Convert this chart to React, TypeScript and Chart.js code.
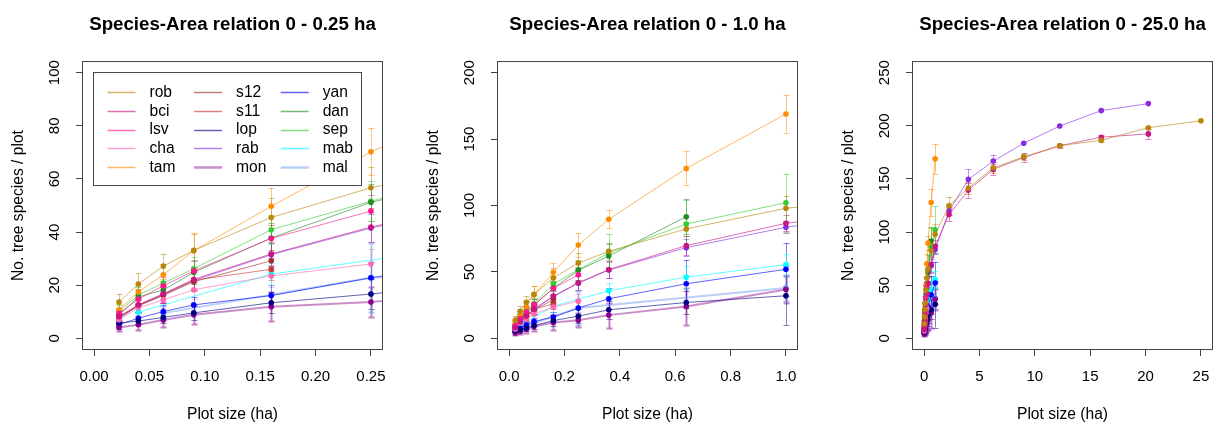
import React, { useEffect, useRef } from "react";
import { Chart, registerables } from "chart.js";

Chart.register(...registerables);

// ---- data ----
const plotSizes = [0.0225, 0.04, 0.0625, 0.09, 0.16, 0.25, 0.36, 0.64, 1.0, 2.25, 4, 6.25, 9, 12.25, 16, 20.25, 25];

const seriesNames = ["rob", "bci", "lsv", "cha", "tam", "s12", "s11", "lop", "rab", "mon", "yan", "dan", "sep", "mab", "mal"];
const seriesColors = ["#B8860B", "#C71585", "#FF1493", "#FF69B4", "#FF8C00", "#A52A2A", "#CD3333", "#000080", "#8A2BE2", "#8B008B", "#0000FF", "#228B22", "#32CD32", "#00FFFF", "#6495ED"];
const seriesLineWidths = [1, 1, 1, 1, 1, 1, 1, 1, 1, 2, 1, 1, 1, 1, 2];

const robMean = [13.7, 20.4, 27.2, 33.1, 45.5, 56.7, 65.5, 82.4, 97.9, 124.8, 141.5, 160.5, 170.8, 181.3, 186.3, 198.2, 204.7];
const robSd = [3.1, 4.1, 4.7, 6.3, 7.2, 7.7, 6.5, 5.0, 9.5, 8.5, 6, 5, 3, 1.5, 1.5, 1, 0];
const bciMean = [8.2, 12.6, 16.8, 22.2, 31.8, 41.9, 51.8, 69.8, 86.6, 116.5, 139.5, 159, 170.2, 181.2, 189.3, 192.4, null];
const bciSd = [2, 2.6, 3.2, 3.6, 4.5, 5.5, 6.5, 7, 6, 6, 7, 5, 4, 2, 2, 5, null];
const lsvMean = [9.4, 14.8, 19.8, 25.4, 37.6, 47.9, null, null, null, null, null, null, null, null, null, null, null];
const lsvSd = [2.2, 2.8, 3.3, 4, 5, 6, null, null, null, null, null, null, null, null, null, null, null];
const chaMean = [7, 11.5, 14.5, 18.3, 23.5, 28.0, null, null, null, null, null, null, null, null, null, null, null];
const chaSd = [2, 2.6, 3, 3.5, 4, 5.5, null, null, null, null, null, null, null, null, null, null, null];
const tamMean = [10.8, 17.5, 23.9, 33.0, 49.7, 70.2, 89.6, 127.9, 168.9, null, null, null, null, null, null, null, null];
const tamSd = [2.2, 3, 4.2, 6.5, 6.9, 8.8, 6.8, 12.8, 14, null, null, null, null, null, null, null, null];
const s12Mean = [7.7, 12.3, 16.2, 21.3, 29.2, null, null, null, null, null, null, null, null, null, null, null, null];
const s12Sd = [2, 2.5, 3, 3.5, 4, null, null, null, null, null, null, null, null, null, null, null, null];
const s11Mean = [8, 12.6, 16.6, 21.9, 26.0, null, null, null, null, null, null, null, null, null, null, null, null];
const s11Sd = [2.2, 2.7, 3.2, 3.8, 4.2, null, null, null, null, null, null, null, null, null, null, null, null];
const lopMean = [5.8, 6.5, 7.9, 9.6, 13.4, 16.7, 21.5, 27.0, 32.1, null, null, null, null, null, null, null, null];
const lopSd = [1.2, 1.5, 2, 2.5, 4, 5.5, 7, 9, 22, null, null, null, null, null, null, null, null];
const rabMean = [7.6, 12.2, 16.3, 21.8, 31.5, 41.5, 51.4, 68.3, 83.6, 119.8, 149.6, 166.8, 183.6, 199.8, 214.3, 220.9, null];
const rabSd = [1.8, 2.4, 3, 3.4, 4.3, 5.3, 6, 6.5, 4.5, 4, 9.5, 6, 0, 0, 0, 0, null];
const monMean = [4.1, 5.1, 6.9, 8.9, 11.9, 13.7, 17.5, 24.0, 36.8, null, null, null, null, null, null, null, null];
const monSd = [1.5, 2, 2.5, 3.5, 5.5, 5.5, 9.5, 14, 10, null, null, null, null, null, null, null, null];
const yanMean = [5.2, 7.6, 10.1, 12.6, 16.1, 22.8, 29.8, 41.1, 52.0, null, null, null, null, null, null, null, null];
const yanSd = [1.5, 2, 2.5, 3, 4, 6, 8, 18, 20, null, null, null, null, null, null, null, null];
const danMean = [8.7, 15.6, 18.2, 24.8, 37.8, 51.2, 62.0, 91.6, null, null, null, null, null, null, null, null, null];
const danSd = [2, 3, 3.5, 4.5, 5.5, 7, 9, 13, null, null, null, null, null, null, null, null, null];
const sepMean = [10.2, 16.3, 20.8, 26.2, 40.9, 51.6, 64.4, 86.1, 102.1, null, null, null, null, null, null, null, null];
const sepSd = [2.3, 3, 3.5, 4.5, 5.5, 7.5, 14, 18, 22, null, null, null, null, null, null, null, null];
const mabMean = [null, 9.9, null, null, 24.2, null, 35.8, 46.1, 55.5, null, null, null, null, null, null, null, null];
const mabSd = [null, 2.5, null, null, 4, null, 6, 8, 8, null, null, null, null, null, null, null, null];
const malMean = [null, null, 9.5, null, null, 22.8, null, null, 38.0, null, null, null, null, null, null, null, null];
const malSd = [null, null, 2.5, null, null, 13, null, null, 10, null, null, null, null, null, null, null, null];

const seriesMeans = [robMean, bciMean, lsvMean, chaMean, tamMean, s12Mean, s11Mean, lopMean, rabMean, monMean, yanMean, danMean, sepMean, mabMean, malMean];
const seriesSds = [robSd, bciSd, lsvSd, chaSd, tamSd, s12Sd, s11Sd, lopSd, rabSd, monSd, yanSd, danSd, sepSd, mabSd, malSd];

// panels
const panelTitles = ["Species-Area relation 0 - 0.25 ha", "Species-Area relation 0 - 1.0 ha", "Species-Area relation 0 - 25.0 ha"];
const xTicks1 = [0, 0.05, 0.1, 0.15, 0.2, 0.25];
const xTickLabels1 = ["0.00", "0.05", "0.10", "0.15", "0.20", "0.25"];
const yTicks1 = [0, 20, 40, 60, 80, 100];
const xTicks2 = [0, 0.2, 0.4, 0.6, 0.8, 1.0];
const xTickLabels2 = ["0.0", "0.2", "0.4", "0.6", "0.8", "1.0"];
const yTicks2 = [0, 50, 100, 150, 200];
const xTicks3 = [0, 5, 10, 15, 20, 25];
const xTickLabels3 = ["0", "5", "10", "15", "20", "25"];
const yTicks3 = [0, 50, 100, 150, 200, 250];
const xLimits = [[-0.01, 0.26], [-0.04, 1.04], [-1, 26]];
const yLimits = [[-4, 104], [-8, 208], [-10, 260]];
const xTitle = "Plot size (ha)";
const yTitle = "No. tree species / plot";

// ---- styling ----
const FONT = "'Liberation Sans', Arial, Helvetica, sans-serif";
const AXIS_COLOR = "#444";

function rgba(hex: string, a: number) {
  const n = parseInt(hex.slice(1), 16);
  return `rgba(${(n >> 16) & 255},${(n >> 8) & 255},${n & 255},${a})`;
}

function buildDatasets() {
  return seriesNames.map((name, i) => {
    const data: any[] = [];
    plotSizes.forEach((x, j) => {
      const m = seriesMeans[i][j];
      if (m !== null && m !== undefined) data.push({ x, y: m, sd: seriesSds[i][j] });
    });
    return {
      label: name,
      data,
      borderColor: rgba(seriesColors[i], seriesLineWidths[i] > 1 ? 0.45 : 0.62),
      borderWidth: seriesLineWidths[i],
      pointBackgroundColor: seriesColors[i],
      pointBorderWidth: 0,
      pointRadius: 2.8,
      pointHoverRadius: 2.8,
      tension: 0,
      clip: 0,
      errColor: rgba(seriesColors[i], 0.5),
    };
  });
}

const errorBarPlugin = {
  id: "errorBars",
  beforeDatasetsDraw(chart: any) {
    const { ctx, chartArea, scales } = chart;
    const xs = scales.x, ys = scales.y;
    ctx.save();
    ctx.beginPath();
    ctx.rect(chartArea.left, chartArea.top, chartArea.right - chartArea.left, chartArea.bottom - chartArea.top);
    ctx.clip();
    chart.data.datasets.forEach((ds: any) => {
      ctx.strokeStyle = ds.errColor;
      ctx.lineWidth = ds.borderWidth > 1 ? 2 : 1;
      ds.data.forEach((p: any) => {
        if (!p.sd) return;
        const px = Math.round(xs.getPixelForValue(p.x)) + 0.5;
        const y1 = ys.getPixelForValue(p.y - p.sd);
        const y2 = ys.getPixelForValue(p.y + p.sd);
        ctx.beginPath();
        ctx.moveTo(px, y1);
        ctx.lineTo(px, y2);
        ctx.moveTo(px - 3, Math.round(y1) + 0.5);
        ctx.lineTo(px + 3, Math.round(y1) + 0.5);
        ctx.moveTo(px - 3, Math.round(y2) + 0.5);
        ctx.lineTo(px + 3, Math.round(y2) + 0.5);
        ctx.stroke();
      });
    });
    ctx.restore();
  },
};

const boxPlugin = {
  id: "plotBox",
  afterDraw(chart: any) {
    const { ctx, chartArea } = chart;
    ctx.save();
    ctx.strokeStyle = AXIS_COLOR;
    ctx.lineWidth = 1;
    ctx.strokeRect(chartArea.left - 0.5, chartArea.top - 0.5, chartArea.right - chartArea.left + 1, chartArea.bottom - chartArea.top + 1);
    ctx.restore();
  },
};

const legendPlugin = {
  id: "insetLegend",
  afterDatasetsDraw(chart: any) {
    const { ctx, chartArea } = chart;
    const left = chartArea.left + 10.5;
    const top = chartArea.top + 10.5;
    const w = 268;
    const h = 113;
    ctx.save();
    ctx.fillStyle = "#fff";
    ctx.fillRect(left, top, w, h);
    ctx.strokeStyle = AXIS_COLOR;
    ctx.lineWidth = 1;
    ctx.strokeRect(left, top, w, h);
    ctx.font = `15.6px ${FONT}`;
    ctx.textBaseline = "middle";
    ctx.textAlign = "left";
    chart.data.datasets.forEach((ds: any, i: number) => {
      const col = Math.floor(i / 5);
      const row = i % 5;
      const cx = left + 14 + col * 86.6;
      const cy = top + 19.5 + row * 18.8;
      ctx.strokeStyle = ds.borderColor;
      ctx.lineWidth = ds.borderWidth > 1 ? 2.5 : 1.5;
      ctx.beginPath();
      ctx.moveTo(cx, Math.round(cy) + 0.5);
      ctx.lineTo(cx + 28, Math.round(cy) + 0.5);
      ctx.stroke();
      ctx.fillStyle = "#000";
      ctx.fillText(ds.label, cx + 42, cy + 0.5);
    });
    ctx.restore();
  },
};

function makeConfig(p: number) {
  const xTicks = [xTicks1, xTicks2, xTicks3][p];
  const xLabels = [xTickLabels1, xTickLabels2, xTickLabels3][p];
  const yTicks = [yTicks1, yTicks2, yTicks3][p];
  const tickFont = { family: FONT, size: 15 };
  const labFont = { family: FONT, size: 15.6 };
  const plugins: any[] = [errorBarPlugin, boxPlugin];
  if (p === 0) plugins.push(legendPlugin);
  return {
    type: "line" as const,
    data: { datasets: buildDatasets() },
    options: {
      animation: false,
      responsive: false,
      devicePixelRatio: 1,
      events: [],
      layout: { padding: { left: 0, right: 23, top: 0, bottom: 0 } },
      plugins: {
        legend: { display: false },
        tooltip: { enabled: false },
        title: {
          display: true,
          text: panelTitles[p],
          fullSize: false,
          color: "#000",
          font: { family: FONT, size: 18.7, weight: "bold" },
          padding: { top: 13.4, bottom: 26.2 },
        },
      },
      scales: {
        x: {
          type: "linear",
          min: xLimits[p][0],
          max: xLimits[p][1],
          afterBuildTicks: (s: any) => {
            s.ticks = xTicks.map((v) => ({ value: v }));
          },
          afterFit: (s: any) => {
            s.height = 77;
          },
          grid: { drawOnChartArea: false, drawTicks: true, tickLength: 7, color: AXIS_COLOR, lineWidth: 1 },
          border: { display: false },
          ticks: {
            callback: (_v: any, i: number) => xLabels[i],
            font: tickFont,
            color: "#000",
            padding: 12,
            maxRotation: 0,
            minRotation: 0,
            autoSkip: false,
          },
          title: { display: true, text: xTitle, color: "#000", font: labFont, padding: { top: 0, bottom: 1.6 } },
        },
        y: {
          type: "linear",
          min: yLimits[p][0],
          max: yLimits[p][1],
          afterBuildTicks: (s: any) => {
            s.ticks = yTicks.map((v) => ({ value: v }));
          },
          afterFit: (s: any) => {
            s.width = 83;
          },
          grid: { drawOnChartArea: false, drawTicks: true, tickLength: 7, color: AXIS_COLOR, lineWidth: 1 },
          border: { display: false },
          ticks: {
            callback: (v: any) => String(v),
            font: tickFont,
            color: "#000",
            padding: 8.5,
            minRotation: 90,
            maxRotation: 90,
            crossAlign: "center",
            autoSkip: false,
          },
          title: { display: true, text: yTitle, color: "#000", font: labFont, padding: { top: 9, bottom: 0 } },
        },
      },
    },
    plugins,
  };
}

function Panel({ index, left }: { index: number; left: number }) {
  const ref = useRef<HTMLCanvasElement | null>(null);
  useEffect(() => {
    if (!ref.current) return;
    const chart = new Chart(ref.current, makeConfig(index) as any);
    return () => chart.destroy();
  }, [index]);
  return (
    <canvas
      ref={ref}
      width={405}
      height={426}
      style={{ position: "absolute", left, top: 0, width: 405, height: 426 }}
    />
  );
}

export default function App() {
  return (
    <div
      style={{
        position: "fixed",
        left: 0,
        top: 0,
        width: 1216,
        height: 426,
        background: "#fff",
        overflow: "hidden",
      }}
    >
      <Panel index={0} left={0} />
      <Panel index={1} left={415} />
      <Panel index={2} left={830} />
    </div>
  );
}
